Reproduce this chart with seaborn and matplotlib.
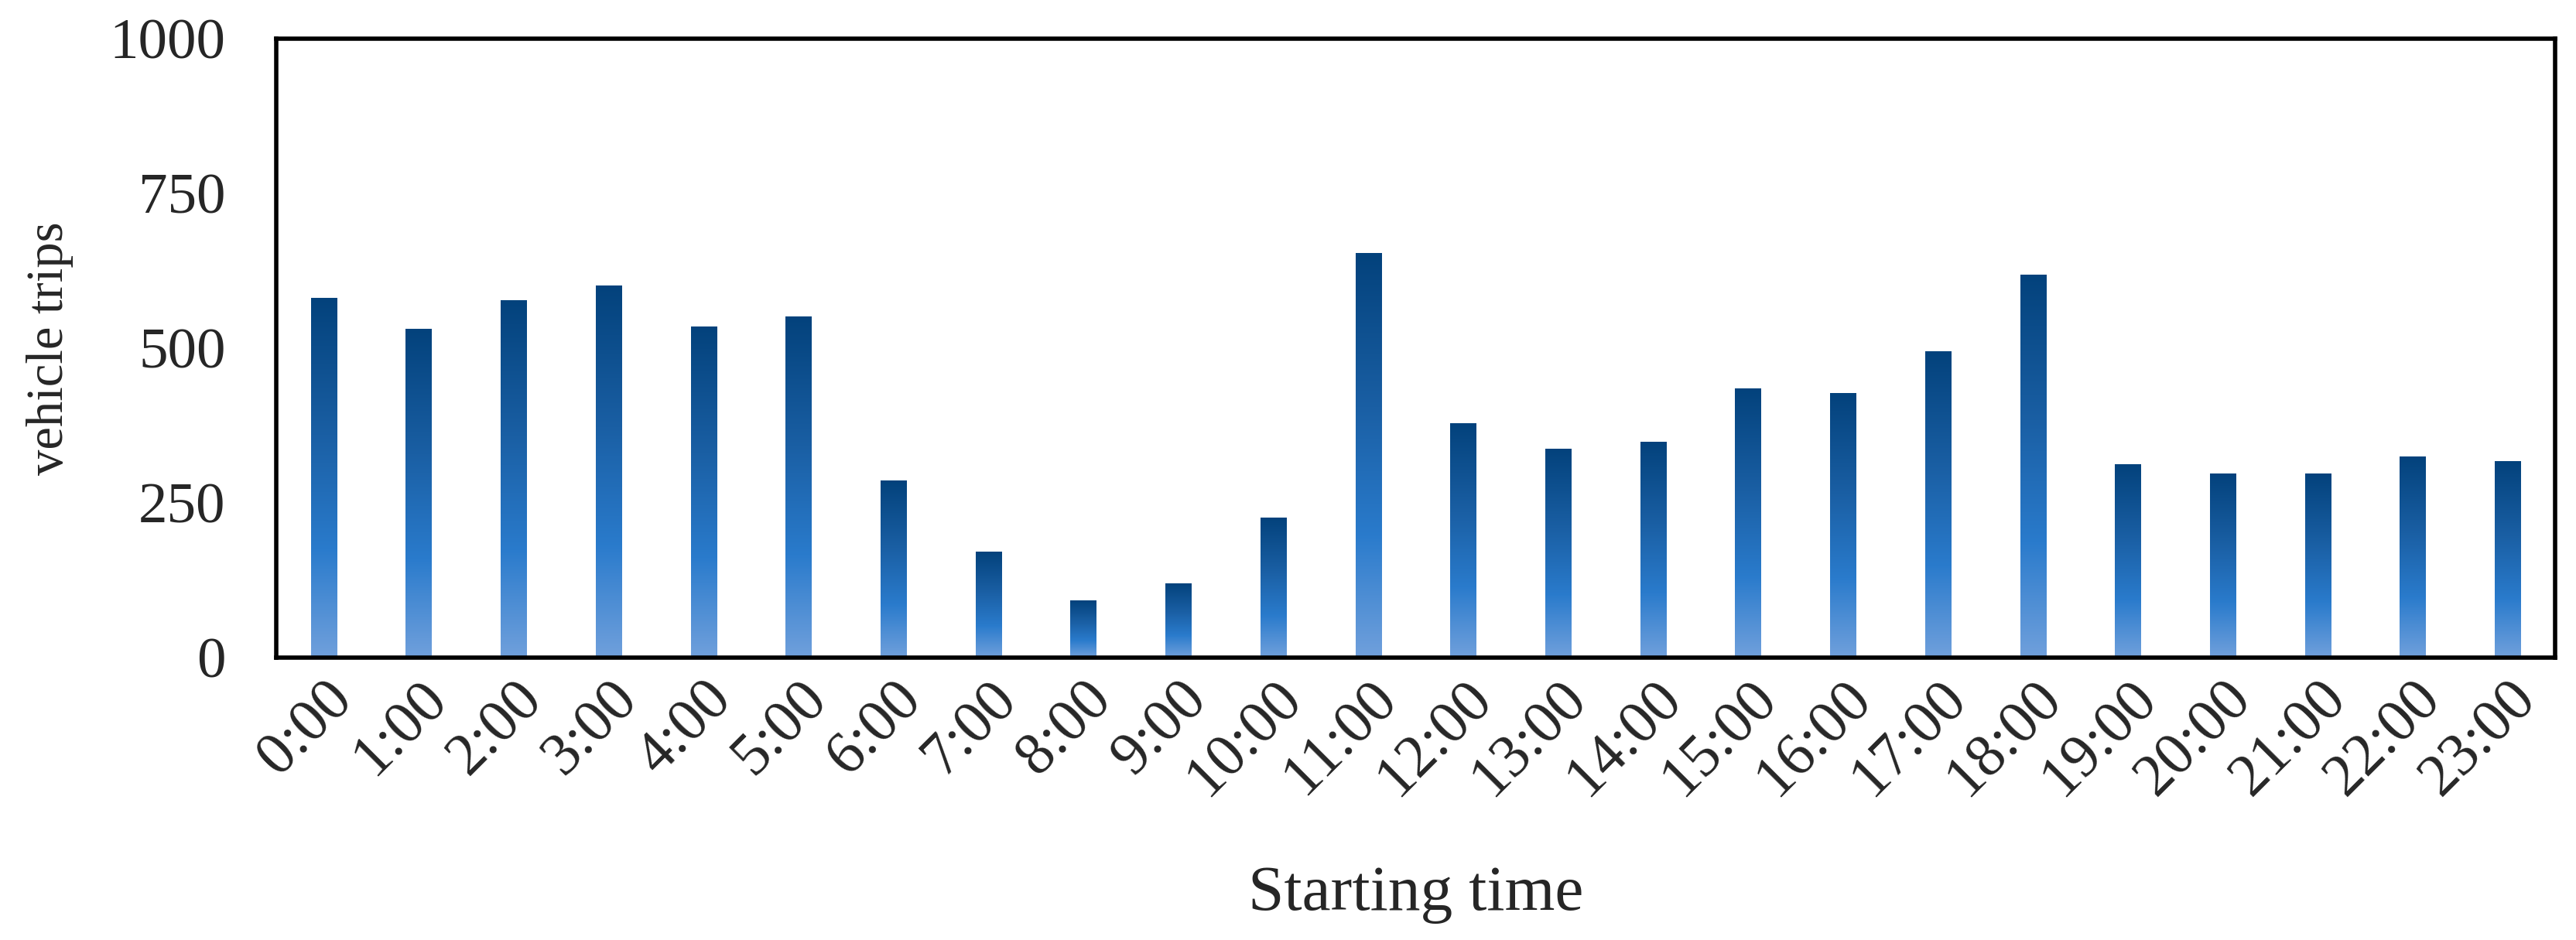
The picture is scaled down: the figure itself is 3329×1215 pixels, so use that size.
import numpy as np
import pandas as pd
import matplotlib
matplotlib.use('Agg')
import matplotlib.pyplot as plt
from matplotlib.colors import LinearSegmentedColormap
import seaborn as sns

# data
hours = ['0:00', '1:00', '2:00', '3:00', '4:00', '5:00', '6:00', '7:00',
         '8:00', '9:00', '10:00', '11:00', '12:00', '13:00', '14:00', '15:00',
         '16:00', '17:00', '18:00', '19:00', '20:00', '21:00', '22:00', '23:00']
trips = [580, 531, 577, 601, 534, 550, 285, 171, 92, 120, 226, 653,
         378, 337, 348, 434, 427, 494, 618, 312, 297, 297, 324, 317]
y_ticks = [0, 250, 500, 750, 1000]

df = pd.DataFrame({'time': hours, 'trips': trips})

sns.set_style('white')
plt.rcParams['font.family'] = ['Liberation Serif', 'DejaVu Serif']

fig = plt.figure(figsize=(33.3, 12.15), dpi=100)
ax = fig.add_axes([357 / 3330, 1 - 850 / 1215, (3302 - 357) / 3330, (850 - 50) / 1215])

sns.barplot(data=df, x='time', y='trips', color='#2a7bcc', width=0.27,
            saturation=1, ax=ax)

# vertical gradient inside every bar: light at the base, dark at the top
cmap = LinearSegmentedColormap.from_list(
    'bar_grad', [(0.0, '#70a0dc'), (0.3, '#2a7bcc'), (0.62, '#1a5fa4'), (1.0, '#03427c')])
grad = np.linspace(0, 1, 256).reshape(-1, 1)
for p in ax.patches:
    x0, y0 = p.get_x(), p.get_y()
    w, h = p.get_width(), p.get_height()
    ax.imshow(grad, extent=[x0, x0 + w, y0, y0 + h], origin='lower',
              aspect='auto', cmap=cmap, zorder=p.get_zorder())
    p.set_facecolor('none')
    p.set_edgecolor('none')

ax.set_xlim(-0.5, 23.5)
ax.set_ylim(0, 1000)
ax.set_yticks(y_ticks)

for s in ax.spines.values():
    s.set_visible(True)
    s.set_linewidth(4)
    s.set_color('black')

ax.tick_params(axis='y', direction='in', length=11, width=4, pad=47, labelsize=54)
ax.tick_params(axis='x', length=0, pad=12, labelsize=56)
plt.setp(ax.get_xticklabels(), rotation=45, ha='right', rotation_mode='anchor')

ax.set_xlabel('Starting time', fontsize=60)
ax.set_ylabel('vehicle trips', fontsize=48)
ax.xaxis.set_label_coords(0.5, -0.335)
ax.yaxis.set_label_coords(-0.089, 0.5)

fig.savefig('out.png', dpi=100, facecolor='white')
